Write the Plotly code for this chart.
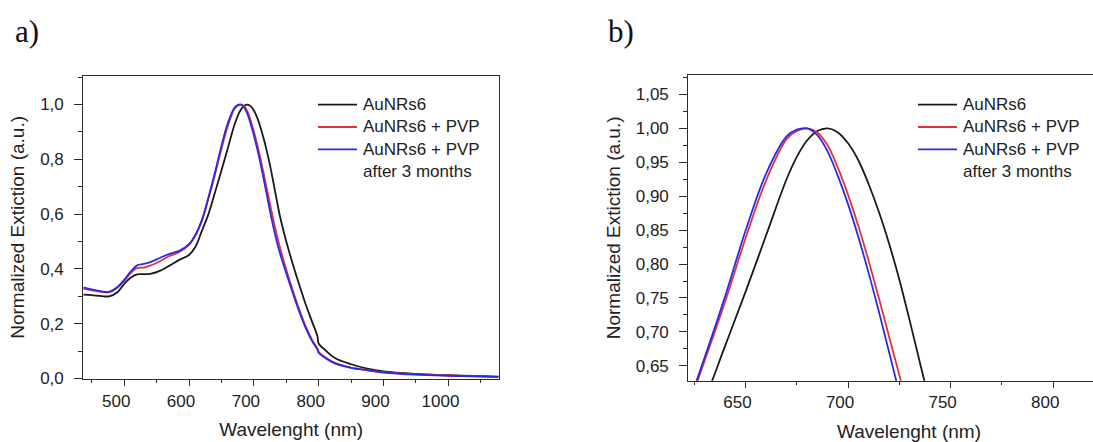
import plotly.graph_objects as go

# ---------------- data ----------------
wavelength = [437, 450, 465, 477, 490, 500, 510, 520, 530, 540, 555, 570, 585,
              600, 610, 620, 630, 640, 650, 660, 670, 675, 680, 685, 690, 695,
              700, 705, 710, 715, 720, 725, 730, 735, 740, 750, 760, 770, 780,
              790, 798, 800, 810, 825, 850, 875, 900, 950, 1000, 1077]

aunrs6 = [0.306, 0.304, 0.301, 0.300, 0.316, 0.345, 0.368, 0.380, 0.381, 0.382,
          0.393, 0.412, 0.433, 0.451, 0.481, 0.540, 0.600, 0.679, 0.759, 0.842,
          0.925, 0.958, 0.982, 0.996, 1.000, 0.994, 0.978, 0.953, 0.918, 0.877,
          0.830, 0.777, 0.717, 0.655, 0.595, 0.500, 0.418, 0.342, 0.270, 0.206,
          0.155, 0.127, 0.104, 0.075, 0.052, 0.036, 0.026, 0.017, 0.012, 0.007]

aunrs6_pvp = [0.328, 0.322, 0.316, 0.315, 0.332, 0.355, 0.385, 0.403, 0.405, 0.412,
              0.428, 0.447, 0.462, 0.488, 0.522, 0.575, 0.657, 0.744, 0.838, 0.923,
              0.984, 0.996, 1.000, 0.994, 0.975, 0.942, 0.902, 0.856, 0.805, 0.750,
              0.693, 0.636, 0.580, 0.528, 0.481, 0.397, 0.322, 0.252, 0.190, 0.140,
              0.109, 0.097, 0.078, 0.057, 0.040, 0.031, 0.023, 0.015, 0.011, 0.006]

aunrs6_pvp_3m = [0.333, 0.325, 0.318, 0.317, 0.335, 0.360, 0.390, 0.413, 0.418, 0.425,
                 0.440, 0.455, 0.466, 0.490, 0.525, 0.580, 0.662, 0.752, 0.849, 0.933,
                 0.988, 0.998, 1.000, 0.990, 0.966, 0.930, 0.888, 0.840, 0.787, 0.730,
                 0.670, 0.610, 0.554, 0.504, 0.459, 0.384, 0.312, 0.244, 0.184, 0.136,
                 0.106, 0.094, 0.075, 0.055, 0.039, 0.030, 0.022, 0.014, 0.010, 0.006]

series_names = ["AuNRs6", "AuNRs6 + PVP", "AuNRs6 + PVP<br>after 3 months"]
series_values = [aunrs6, aunrs6_pvp, aunrs6_pvp_3m]
series_colors = ["#1a1a1a", "#e0323a", "#2a2ae6"]

panel_labels = ["a)", "b)"]
x_title = "Wavelenght (nm)"
y_title = "Normalized Extiction (a.u.)"

# ---------------- layout geometry ----------------
W, H_REF = 1093, 442      # reference picture size (positions below are in these pixels)
H_FIG = 452               # figure height (the photo maps it onto 442 rows)
FONT = "Liberation Sans, Arial, sans-serif"
AX = "#2b2b2b"


def px_x(x):
    return x / W


def px_y(y):
    return 1 - y / H_REF


fig = go.Figure()

for name, vals, col in zip(series_names, series_values, series_colors):
    fig.add_trace(go.Scatter(x=wavelength, y=vals, name=name, mode="lines",
                             line=dict(color=col, width=1.8, shape="spline", smoothing=1.0),
                             xaxis="x", yaxis="y", showlegend=False))
for name, vals, col in zip(series_names, series_values, series_colors):
    fig.add_trace(go.Scatter(x=wavelength, y=vals, name=name, mode="lines",
                             line=dict(color=col, width=1.8, shape="spline", smoothing=1.0),
                             xaxis="x2", yaxis="y2", showlegend=False))

tickfont = dict(family=FONT, size=17, color="#222")
common = dict(showline=True, linecolor=AX, linewidth=1.2, ticks="outside",
              tickcolor=AX, tickwidth=1.2, showgrid=False, zeroline=False,
              tickfont=tickfont)
title_font = dict(family=FONT, size=19, color="#222")

# legend drawn as line samples + text (rows at fixed pixel positions)
legend_rows_y = [104.3, 126.7, 149.0]
legend_x0 = [318, 918]
shapes = []
annotations = []
for lx in legend_x0:
    for name, col, ry in zip(series_names, series_colors, legend_rows_y):
        shapes.append(dict(type="line", xref="paper", yref="paper",
                           x0=px_x(lx), x1=px_x(lx + 39), y0=px_y(ry), y1=px_y(ry),
                           line=dict(color=col, width=1.8)))
        annotations.append(dict(text=name, x=px_x(lx + 43), y=px_y(ry - 11.5),
                                xref="paper", yref="paper", xanchor="left", yanchor="top",
                                align="left", showarrow=False,
                                font=dict(family=FONT, size=17, color="#222")))

annotations += [
    dict(text=panel_labels[0], x=px_x(13), y=px_y(31), xref="paper", yref="paper",
         xanchor="left", yanchor="middle", showarrow=False,
         font=dict(family="Liberation Serif, Times New Roman, serif", size=31, color="#111")),
    dict(text=panel_labels[1], x=px_x(606), y=px_y(31), xref="paper", yref="paper",
         xanchor="left", yanchor="middle", showarrow=False,
         font=dict(family="Liberation Serif, Times New Roman, serif", size=31, color="#111")),
    dict(text=x_title, x=px_x(909), y=px_y(431), xref="paper", yref="paper",
         xanchor="center", yanchor="middle", showarrow=False, font=title_font),
]

fig.update_layout(
    width=W, height=H_FIG,
    margin=dict(l=0, r=0, t=0, b=0),
    paper_bgcolor="white", plot_bgcolor="white",
    separators=",.",
    showlegend=False,
    xaxis=dict(domain=[px_x(83.3), px_x(499)], range=[437, 1078], anchor="y",
               mirror=True, dtick=100, tick0=500, ticklen=6, ticklabelshift=-8,
               minor=dict(dtick=50, tick0=450, ticklen=3, ticks="outside", tickcolor=AX),
               title=dict(text=x_title, font=title_font, standoff=13),
               **common),
    yaxis=dict(domain=[px_y(378.2), px_y(75.6)], range=[-0.002, 1.105], anchor="x",
               mirror=True, dtick=0.2, tick0=0, tickformat=".1f", ticklen=8,
               ticklabelstandoff=7,
               minor=dict(dtick=0.1, tick0=0, ticklen=4, ticks="outside", tickcolor=AX),
               title=dict(text=y_title, font=title_font, standoff=10),
               **common),
    xaxis2=dict(domain=[px_x(688.3), 1.0], range=[622.1, 819.4], anchor="y2",
                mirror=True, dtick=50, tick0=650, ticklen=6, ticklabelshift=-8,
                minor=dict(dtick=25, tick0=625, ticklen=3, ticks="outside", tickcolor=AX),
                **common),
    yaxis2=dict(domain=[px_y(379.9), px_y(74.9)], range=[0.628, 1.0785], anchor="x2",
                mirror=False, dtick=0.05, tick0=0.65, tickformat=".2f", ticklen=8,
                ticklabelstandoff=7,
                minor=dict(dtick=0.025, tick0=0.625, ticklen=4, ticks="outside", tickcolor=AX),
                title=dict(text=y_title, font=title_font, standoff=10),
                **common),
    shapes=shapes,
    annotations=annotations,
)

fig.write_html(
    "out.html", config={"displayModeBar": False},
    post_script="document.body.style.margin='0';document.body.style.overflow='hidden';")
